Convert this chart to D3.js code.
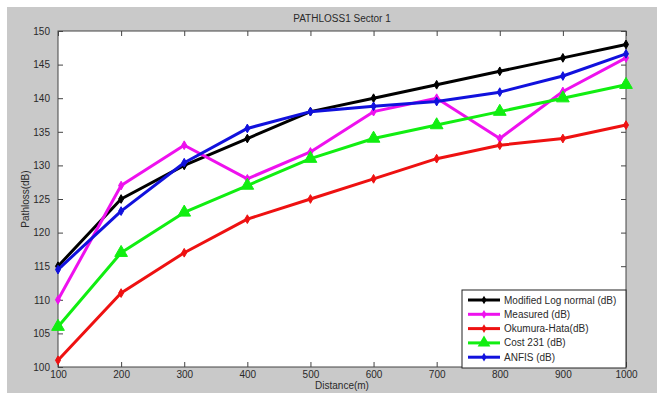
<!DOCTYPE html>
<html>
<head>
<meta charset="utf-8">
<script src="https://cdn.jsdelivr.net/npm/d3@7"></script>
<style>
  body { margin: 0; background: #ffffff; }
  svg text { font-family: "Liberation Sans", Arial, sans-serif; fill: #2a2a2a; }
</style>
</head>
<body>
<div id="chart"></div>
<script>
// Declare constants
const FRAME_WIDTH = 657;
const FRAME_HEIGHT = 400;
const MARGINS = {left: 58, right: 31, top: 31, bottom: 33};

const VIS_WIDTH = FRAME_WIDTH - MARGINS.left - MARGINS.right;
const VIS_HEIGHT = FRAME_HEIGHT - MARGINS.top - MARGINS.bottom;

// Data
const distances = [100, 200, 300, 400, 500, 600, 700, 800, 900, 1000];
const modifiedLogNormal = [115, 125, 130, 134, 138, 140, 142, 144, 146, 148];
const measured = [110, 127, 133, 128, 132, 138, 140, 134, 141, 146];
const okumuraHata = [101, 111, 117, 122, 125, 128, 131, 133, 134, 136];
const cost231 = [106, 117, 123, 127, 131, 134, 136, 138, 140, 142];
const anfis = [114.5, 123.2, 130.4, 135.5, 138, 138.8, 139.5, 140.9, 143.3, 146.6];

const xTicks = [100, 200, 300, 400, 500, 600, 700, 800, 900, 1000];
const yTicks = [100, 105, 110, 115, 120, 125, 130, 135, 140, 145, 150];

const seriesNames = ["Modified Log normal (dB)", "Measured (dB)", "Okumura-Hata(dB)", "Cost 231 (dB)", "ANFIS (dB)"];
const seriesValues = [modifiedLogNormal, measured, okumuraHata, cost231, anfis];
const seriesColors = ["#000000", "#ee11ee", "#ee1111", "#11ee11", "#1111dd"];
const seriesMarkers = ["dot", "dot", "dot", "triangle", "dot"];

const FRAME = d3.select("#chart")
  .append("svg")
    .attr("width", FRAME_WIDTH)
    .attr("height", FRAME_HEIGHT);

// gray figure background
FRAME.append("rect")
  .attr("x", 7).attr("y", 7)
  .attr("width", FRAME_WIDTH - 7).attr("height", 386)
  .attr("fill", "#c9c9c9");

const X_SCALE = d3.scaleLinear().domain([100, 1000]).range([0, VIS_WIDTH]);
const Y_SCALE = d3.scaleLinear().domain([100, 150]).range([VIS_HEIGHT, 0]);

const plot = FRAME.append("g")
  .attr("transform", `translate(${MARGINS.left},${MARGINS.top})`);

plot.append("rect")
  .attr("width", VIS_WIDTH).attr("height", VIS_HEIGHT)
  .attr("fill", "#ffffff");

// axes, ticks inward like matlab
function styleAxis(g) {
  g.select(".domain").remove();
  g.selectAll(".tick line").attr("stroke", "#444").attr("stroke-width", 1);
  g.selectAll("text").attr("font-size", 10).attr("fill", "#2a2a2a");
}

plot.append("g")
  .attr("transform", `translate(0,${VIS_HEIGHT})`)
  .call(d3.axisBottom(X_SCALE).tickValues(xTicks).tickFormat(d3.format("d"))
    .tickSizeInner(-5).tickSizeOuter(0).tickPadding(4))
  .call(styleAxis);

plot.append("g")
  .call(d3.axisTop(X_SCALE).tickValues(xTicks).tickSizeInner(-5).tickSizeOuter(0).tickFormat(""))
  .call(styleAxis);

plot.append("g")
  .call(d3.axisLeft(Y_SCALE).tickValues(yTicks).tickSizeInner(-5).tickSizeOuter(0).tickPadding(8))
  .call(styleAxis);

plot.append("g")
  .attr("transform", `translate(${VIS_WIDTH},0)`)
  .call(d3.axisRight(Y_SCALE).tickValues(yTicks).tickSizeInner(-5).tickSizeOuter(0).tickFormat(""))
  .call(styleAxis);

plot.append("rect")
  .attr("width", VIS_WIDTH).attr("height", VIS_HEIGHT)
  .attr("fill", "none").attr("stroke", "#444").attr("stroke-width", 1);

// lines
const line = d3.line()
  .x((d, i) => X_SCALE(distances[i]))
  .y(d => Y_SCALE(d));

const triangle = d3.symbol().type(d3.symbolTriangle).size(70);
const dot = d3.symbol().type(d3.symbolDiamond).size(22);

seriesValues.forEach((vals, s) => {
  const g = plot.append("g");
  g.append("path")
    .datum(vals)
    .attr("d", line)
    .attr("fill", "none")
    .attr("stroke", seriesColors[s])
    .attr("stroke-width", 3)
    .attr("stroke-linejoin", "round");
  g.selectAll("path.mk")
    .data(vals)
    .enter()
    .append("path")
      .attr("class", "mk")
      .attr("transform", (d, i) => `translate(${X_SCALE(distances[i])},${Y_SCALE(d)})`)
      .attr("d", seriesMarkers[s] === "triangle" ? triangle() : dot())
      .attr("fill", seriesColors[s])
      .attr("stroke", seriesColors[s])
      .attr("stroke-width", 1);
});

// legend
const LEG = {x: 462 - MARGINS.left, y: 290 - MARGINS.top, w: 164, h: 78, step: 14.3};
const legend = plot.append("g").attr("transform", `translate(${LEG.x},${LEG.y})`);
legend.append("rect")
  .attr("width", LEG.w).attr("height", LEG.h)
  .attr("fill", "#ffffff").attr("stroke", "#222").attr("stroke-width", 1);

seriesNames.forEach((name, s) => {
  const yy = 10 + s * LEG.step;
  legend.append("line")
    .attr("x1", 6).attr("x2", 38).attr("y1", yy).attr("y2", yy)
    .attr("stroke", seriesColors[s]).attr("stroke-width", 3);
  legend.append("path")
    .attr("transform", `translate(22,${yy})`)
    .attr("d", seriesMarkers[s] === "triangle" ? triangle() : dot())
    .attr("fill", seriesColors[s]);
  legend.append("text")
    .attr("x", 42).attr("y", yy + 3.5)
    .attr("font-size", 10)
    .text(name);
});

// titles
FRAME.append("text")
  .attr("x", MARGINS.left + VIS_WIDTH / 2)
  .attr("y", 22)
  .attr("text-anchor", "middle")
  .attr("font-size", 10)
  .text("PATHLOSS1 Sector 1");

FRAME.append("text")
  .attr("x", MARGINS.left + VIS_WIDTH / 2)
  .attr("y", 389)
  .attr("text-anchor", "middle")
  .attr("font-size", 10)
  .text("Distance(m)");

FRAME.append("text")
  .attr("transform", `translate(29,${MARGINS.top + VIS_HEIGHT / 2}) rotate(-90)`)
  .attr("text-anchor", "middle")
  .attr("font-size", 10)
  .text("Pathloss(dB)");
</script>
</body>
</html>
